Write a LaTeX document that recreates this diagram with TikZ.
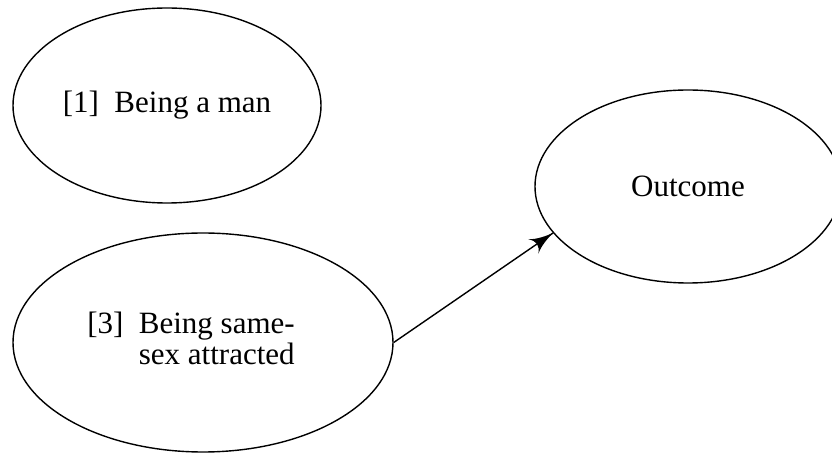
\documentclass[tikz,border=0pt]{standalone}
\usepackage{fontspec}
\setmainfont{Liberation Serif}
\usepackage{tikz}
\usetikzlibrary{arrows}
\usetikzlibrary{shapes.geometric}
\usetikzlibrary{decorations.markings}
\tikzset{arr/.style = {decoration={markings,
                                  mark=at position 1 with {\arrow[scale=2.4]{latex'}}},
                      postaction={decorate}}}
\tikzset{oval/.style = {draw, ellipse, inner sep = 0, line width = 0.7pt,
                        font = \fontsize{15.5}{15}\selectfont}}

\begin{document}
\begin{tikzpicture}[x=0.5pt, y=-0.5pt]
    \useasboundingbox (0, 0) rectangle (832, 454);

    \node [oval, minimum width = 154pt, minimum height = 97.5pt] (man) at (167, 105.5)
        {\raisebox{-3pt}{[1]\enspace Being a man}};

    \node [oval, minimum width = 190pt, minimum height = 109.5pt] (same) at (203, 342.5)
        {\raisebox{-2pt}{\begin{tabular}{@{}l@{\enspace}l@{}}[3] & Being same-\\ & sex attracted\end{tabular}}\hspace*{12pt}};

    \node [oval, minimum width = 153pt, minimum height = 96.5pt] (out) at (688, 186.5) {Outcome};

    \draw [arr, line width = 0.7pt] (same.east) -- (out.199);
  \end{tikzpicture}
\end{document}
